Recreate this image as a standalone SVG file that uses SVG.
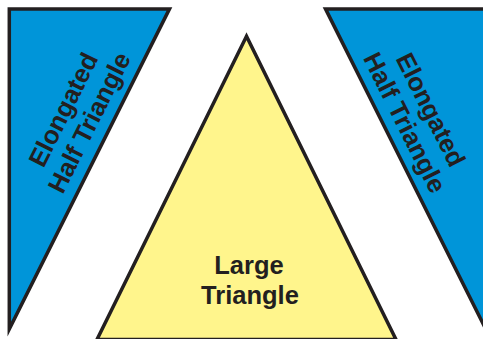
<svg xmlns="http://www.w3.org/2000/svg" width="483" height="339" viewBox="0 0 483 339">
  <style>
    .shape { stroke: #231F20; stroke-width: 3.5; stroke-linejoin: miter; stroke-miterlimit: 10; }
    .blue { fill: #0095D9; }
    .yellow { fill: #FFF58C; }
    .label { font-family: "Liberation Sans", Arial, sans-serif; font-weight: bold; font-size: 25.5px; fill: #231F20; text-anchor: middle; }
  </style>
  <rect width="483" height="339" fill="#FFFFFF"/>
  <g id="left-half-triangle">
    <polygon class="shape blue" points="9.3,8.9 169.5,8.9 9.3,329"/>
    <g transform="translate(76,116) rotate(-63.4)">
      <text class="label" x="0" y="-5.5">Elongated</text>
      <text class="label" x="0" y="23.5">Half Triangle</text>
    </g>
  </g>
  <g id="right-half-triangle">
    <polygon class="shape blue" points="325.5,8.9 485.7,8.9 485.7,329"/>
    <g transform="translate(418,116) rotate(63.4)">
      <text class="label" x="0" y="-5.5">Elongated</text>
      <text class="label" x="0" y="23.5">Half Triangle</text>
    </g>
  </g>
  <g id="large-triangle">
    <polygon class="shape yellow" points="246.5,36.2 97,339.5 396,339.5"/>
    <text class="label" x="249" y="274">Large</text>
    <text class="label" x="250" y="304">Triangle</text>
  </g>
  <g id="connectors"/>
</svg>
